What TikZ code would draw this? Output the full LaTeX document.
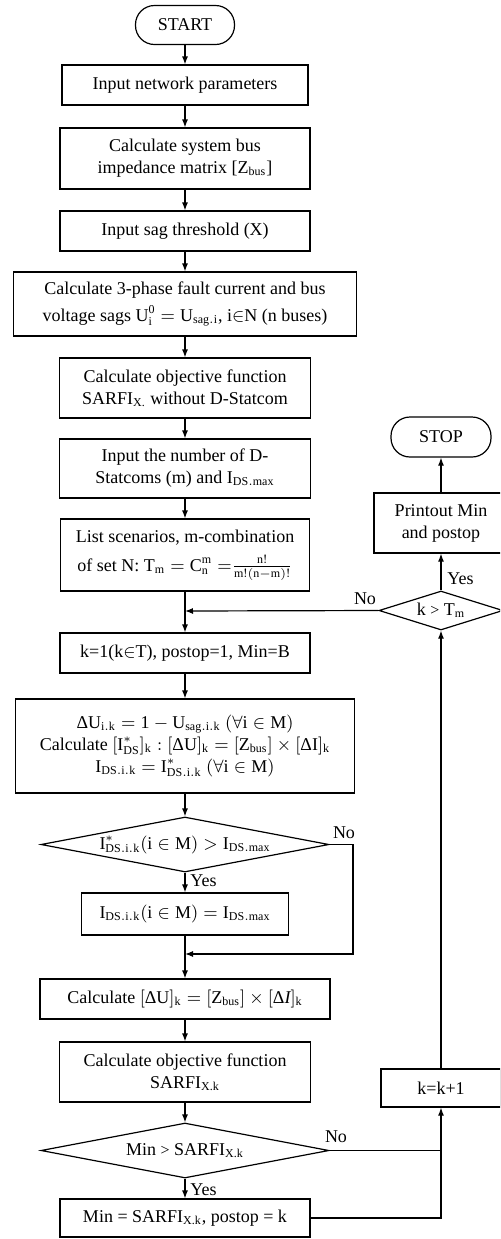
\documentclass[tikz,border=0pt]{standalone}
\usepackage{fontspec}
\setmainfont{Liberation Serif}
\usetikzlibrary{shapes.geometric,arrows.meta}
\newcommand{\DD}{\mbox{Δ}}
\begin{document}
\begin{tikzpicture}[x=0.5pt,y=-0.5pt,
  font=\fontsize{9}{11}\selectfont,
  every node/.style={align=center},
  box/.style={draw,line width=0.6pt,rectangle,inner sep=1pt},
  term/.style={box,rounded corners=9.5pt},
  dec/.style={draw,line width=0.6pt,diamond,inner sep=0pt},
  conn/.style={line width=0.6pt,-{Latex[length=4pt,width=3pt]}},
  plain/.style={line width=0.6pt},
  lbl/.style={inner sep=0pt}]
\clip (0,0) rectangle (500,1239);
% main column
\node[term,minimum width=49.5pt,minimum height=19.5pt] (start) at (185,25) {START};
\node[box,minimum width=123pt,minimum height=20pt] (b1) at (185,85) {Input network parameters};
\node[box,minimum width=125pt,minimum height=30.5pt] (b2) at (185,158.5) {Calculate system bus\\impedance matrix [Z\textsubscript{bus}]};
\node[box,minimum width=125pt,minimum height=20pt] (b3) at (185,231) {Input sag threshold (X)};
\node[box,minimum width=171.5pt,minimum height=32pt] (b4) at (185,304) {Calculate 3-phase fault current and bus\\[2.5pt]voltage sags $\mathrm{U^0_i = U_{sag.i}}$, i$\in$N (n buses)};
\node[box,minimum width=125.5pt,minimum height=30pt] (b5) at (185,388) {Calculate objective function\\SARFI\textsubscript{X.} without D-Statcom};
\node[box,minimum width=125.5pt,minimum height=29.5pt] (b6) at (185,468.5) {Input the number of D-\\Statcoms (m) and $\mathrm{I_{DS.max}}$};
\node[box,minimum width=124.5pt,minimum height=36pt] (b7) at (185,555) {List scenarios, m-combination\\[3.5pt]of set N: $\mathrm{T_m = C^m_n =} \frac{\mathrm{n!}}{\mathrm{m!(n-m)!}}$};
\coordinate (j1) at (185,611);
\node[box,minimum width=125pt,minimum height=20pt] (b8) at (185,653) {k=1(k$\in$T), postop=1, Min=B};
\node[box,minimum width=169.5pt,minimum height=47pt] (b9) at (185,746) {$\mathrm{\DD U_{i.k} = 1 - U_{sag.i.k}\ (\forall i \in M)}$\\Calculate $\mathrm{[I^*_{DS}]_k : [\DD U]_k = [Z_{bus}] \times [\DD I]_k}$\\$\mathrm{I_{DS.i.k} = I^*_{DS.i.k}\ (\forall i \in M)}$};
\node[dec,aspect=5.24,minimum width=144pt,minimum height=27.5pt] (d1) at (185,844.5) {$\mathrm{I^*_{DS.i.k}(i \in M) > I_{DS.max}}$};
\node[box,minimum width=103.5pt,minimum height=21pt] (b10) at (185,914) {$\mathrm{I_{DS.i.k}(i \in M) = I_{DS.max}}$};
\coordinate (j2) at (185,954);
\coordinate (r1) at (353,844.5);
\coordinate (r2) at (353,954);
\node[box,minimum width=145pt,minimum height=20pt] (b11) at (185,999) {Calculate $\mathrm{[\DD U]_k = [Z_{bus}] \times [\DD}\mathit{I}\mathrm{]_k}$};
\node[box,minimum width=125.5pt,minimum height=30pt] (b12) at (185,1072) {Calculate objective function\\SARFI\textsubscript{X.k}};
\node[dec,aspect=5.24,minimum width=144pt,minimum height=27.5pt] (d2) at (185,1150.5) {Min {\fontsize{8}{9}\selectfont>} SARFI\textsubscript{X.k}};
\node[box,minimum width=125pt,minimum height=19pt] (b13) at (185,1218) {Min = SARFI\textsubscript{X.k}, postop = k};
% right column
\node[term,minimum width=50pt,minimum height=20pt] (stop) at (441,437) {STOP};
\node[box,minimum width=67pt,minimum height=30pt] (b14) at (441,523) {Printout Min\\and postop};
\node[dec,aspect=3.2,minimum width=62pt,minimum height=19.5pt] (d3) at (441,610.5) {k {\fontsize{8}{9}\selectfont>} T\textsubscript{m}};
\node[box,minimum width=60pt,minimum height=19pt] (k1) at (441,1088) {k=k+1};
\coordinate (c2) at (441,1150.5);
% connectors
\draw[conn] (start) -- (b1);
\draw[conn] (b1) -- (b2);
\draw[conn] (b2) -- (b3);
\draw[conn] (b3) -- (b4);
\draw[conn] (b4) -- (b5);
\draw[conn] (b5) -- (b6);
\draw[conn] (b6) -- (b7);
\draw[plain] (b7) -- (j1);
\draw[conn] (j1) -- (b8);
\draw[conn] (d3.west) -- (j1);
\draw[conn] (b8) -- (b9);
\draw[conn] (b9) -- (d1);
\draw[conn] (d1.south) -- (b10);
\draw[plain] (b10) -- (j2);
\draw[conn] (j2) -- (b11);
\draw[conn] (d1.east) -- (r1) -- (r2) -- (j2);
\draw[conn] (b11) -- (b12);
\draw[conn] (b12) -- (d2);
\draw[conn] (d2.south) -- (b13);
\draw[plain] (d2.east) -- (c2);
\draw[conn] (b13.east) -| (k1.south);
\draw[conn] (k1.north) -- (d3.south);
\draw[conn] (d3.north) -- (b14.south);
\draw[conn] (b14.north) -- (stop.south);
% labels
\node[lbl,anchor=west] at (190,881) {Yes};
\node[lbl,anchor=west] at (190,1190) {Yes};
\node[lbl,anchor=west] at (447,579) {Yes};
\node[lbl] at (365,599) {No};
\node[lbl] at (344,833) {No};
\node[lbl] at (336,1137) {No};
\end{tikzpicture}
\end{document}
